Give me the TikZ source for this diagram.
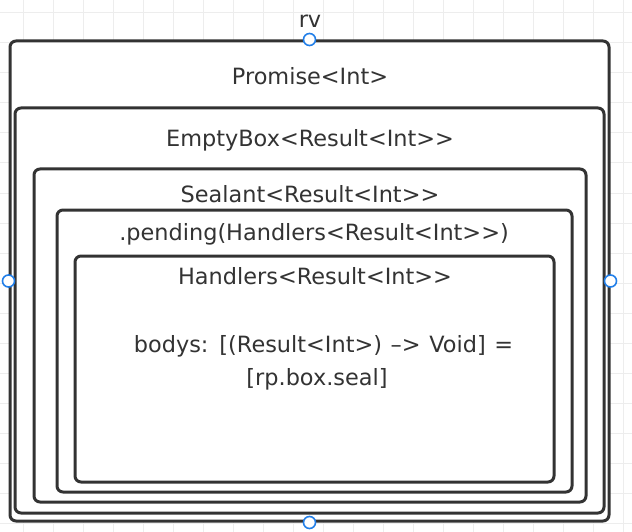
\documentclass[tikz,border=0pt]{standalone}
\usepackage{fontspec}
\setmainfont{DejaVu Sans}[Ligatures=TeXOff]
\definecolor{boxline}{HTML}{333333}
\definecolor{gridline}{HTML}{EDEDED}
\definecolor{handleblue}{HTML}{217EE8}

\begin{document}
\begin{tikzpicture}[x=1pt,y=-1pt,line cap=round,line join=round,
  frame/.style={draw=boxline,line width=3pt,fill=white,rounded corners=6pt,inner sep=0pt},
  caption/.style={text=boxline,anchor=base,inner sep=0pt,font=\fontsize{22.4}{27}\selectfont},
  handle/.style={circle,draw=handleblue,fill=white,line width=1.6pt,minimum size=12pt,inner sep=0pt}]
\useasboundingbox (0,0) rectangle (632,532);
\fill[white] (0,0) rectangle (632,532);
% background grid
\foreach \gx in {23,53,...,623}
  \draw[gridline,line width=1pt] (\gx,0) -- (\gx,532);
\foreach \gy in {13,43,...,523}
  \draw[gridline,line width=1pt] (0,\gy) -- (632,\gy);
% nested boxes
\node[frame,minimum width=599pt,minimum height=480pt] (promise) at (309.5,281) {};
\node[frame,minimum width=589pt,minimum height=405pt] (emptybox) at (309.5,310.5) {};
\node[frame,minimum width=552pt,minimum height=333pt] (sealant) at (310,335.5) {};
\node[frame,minimum width=515pt,minimum height=282pt] (pending) at (314.5,351) {};
\node[frame,minimum width=479pt,minimum height=226pt] (handlers) at (314.5,369) {};
% texts
\node[caption] (rv) at (310,28) {rv};
\node[caption] (promiselbl) at (310,85) {Promise<Int>};
\node[caption] (emptyboxlbl) at (310,147) {EmptyBox<Result<Int>>};
\node[caption] (sealantlbl) at (310,202) {Sealant<Result<Int>>};
\node[caption] (pendinglbl) at (314,240) {.pending(Handlers<Result<Int>>)};
\node[caption] (handlerslbl) at (315,284) {Handlers<Result<Int>>};
\node[caption] (bodys) at (323.5,352) {bodys:\hspace{1.5pt} [(Result<Int>)\hspace{1.5pt} –>\hspace{1.5pt} Void]\hspace{1.5pt} =};
\node[caption] (bodysval) at (317,385) {[rp.box.seal]};
% selection handles
\node[handle] (hn) at (promise.north) {};
\node[handle] (hs) at (promise.south) {};
\node[handle] (hw) at (promise.west) {};
\node[handle] (he) at (promise.east) {};
\end{tikzpicture}
\end{document}
